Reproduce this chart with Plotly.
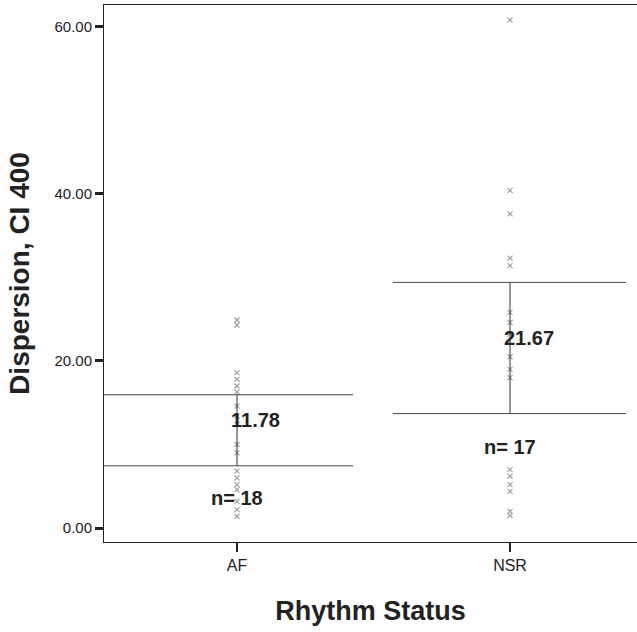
import plotly.graph_objects as go

categories = ["AF", "NSR"]
af_values = [24.9, 24.3, 18.6, 17.8, 17.0, 16.3, 14.6, 13.4, 12.4, 10.0, 9.0,
             6.8, 6.0, 5.2, 4.6, 3.2, 2.2, 1.4]
nsr_values = [60.8, 40.4, 37.6, 32.3, 31.4, 25.8, 24.6, 23.2, 20.5, 19.0, 18.0,
              7.0, 6.2, 5.2, 4.4, 2.0, 1.5]
means = [11.78, 21.67]
ci_low = [7.45, 13.7]
ci_high = [15.95, 29.4]
counts = [18, 17]
mean_labels = ["11.78", "21.67"]
y_ticks = [0, 20, 40, 60]
y_tick_labels = ["0.00", "20.00", "40.00", "60.00"]

FONT = "Liberation Sans, Arial, sans-serif"
fig = go.Figure()

for i, vals in enumerate([af_values, nsr_values]):
    fig.add_trace(go.Scatter(
        x=[i] * len(vals), y=vals, mode="markers",
        marker=dict(symbol="x-thin", size=5, line=dict(width=1.1, color="#9a9a9a")),
        showlegend=False, hoverinfo="y"))
    # CI vertical line
    fig.add_trace(go.Scatter(
        x=[i, i], y=[ci_low[i], ci_high[i]], mode="lines",
        line=dict(color="#333333", width=1), showlegend=False, hoverinfo="skip"))
    # CI horizontal lines
    left = i - (0.487 if i == 0 else 0.429)
    right = i + 0.425
    for yv in (ci_low[i], ci_high[i]):
        fig.add_trace(go.Scatter(
            x=[left, right], y=[yv, yv], mode="lines",
            line=dict(color="#444444", width=1), showlegend=False, hoverinfo="skip"))
    fig.add_annotation(x=i, y=means[i] + 1.1, text="<b>%s</b>" % mean_labels[i],
                       showarrow=False, xanchor="left", xshift=-8,
                       font=dict(family=FONT, size=20, color="#222222"))
    fig.add_annotation(x=i, y=means[i] - (8.2 if i == 0 else 12.0),
                       text="<b>n= %d</b>" % counts[i], showarrow=False,
                       font=dict(family=FONT, size=20, color="#222222"))

fig.update_layout(
    width=637, height=632,
    margin=dict(l=104, r=0, t=5, b=90),
    paper_bgcolor="white", plot_bgcolor="white",
    font=dict(family=FONT, color="#222222"),
    xaxis=dict(range=[-0.487, 1.465], tickvals=[0, 1], ticktext=categories,
               showgrid=False, zeroline=False, showline=True, linecolor="#222222",
               linewidth=1, mirror=True, ticks="outside", ticklen=9, tickwidth=2,
               tickcolor="#222222", tickfont=dict(size=16, family=FONT),
               title=dict(text="<b>Rhythm Status</b>", font=dict(size=27, family=FONT),
                          standoff=27)),
    yaxis=dict(range=[-1.67, 62.6], tickvals=y_ticks, ticktext=y_tick_labels,
               showgrid=False, zeroline=False, showline=True, linecolor="#222222",
               linewidth=1, ticks="outside", ticklen=8, tickwidth=3,
               tickcolor="#222222", tickfont=dict(size=15, family=FONT),
               title=dict(text="<b>Dispersion, CI 400</b>", font=dict(size=28, family=FONT),
                          standoff=16)),
)

fig.write_html("out.html")
